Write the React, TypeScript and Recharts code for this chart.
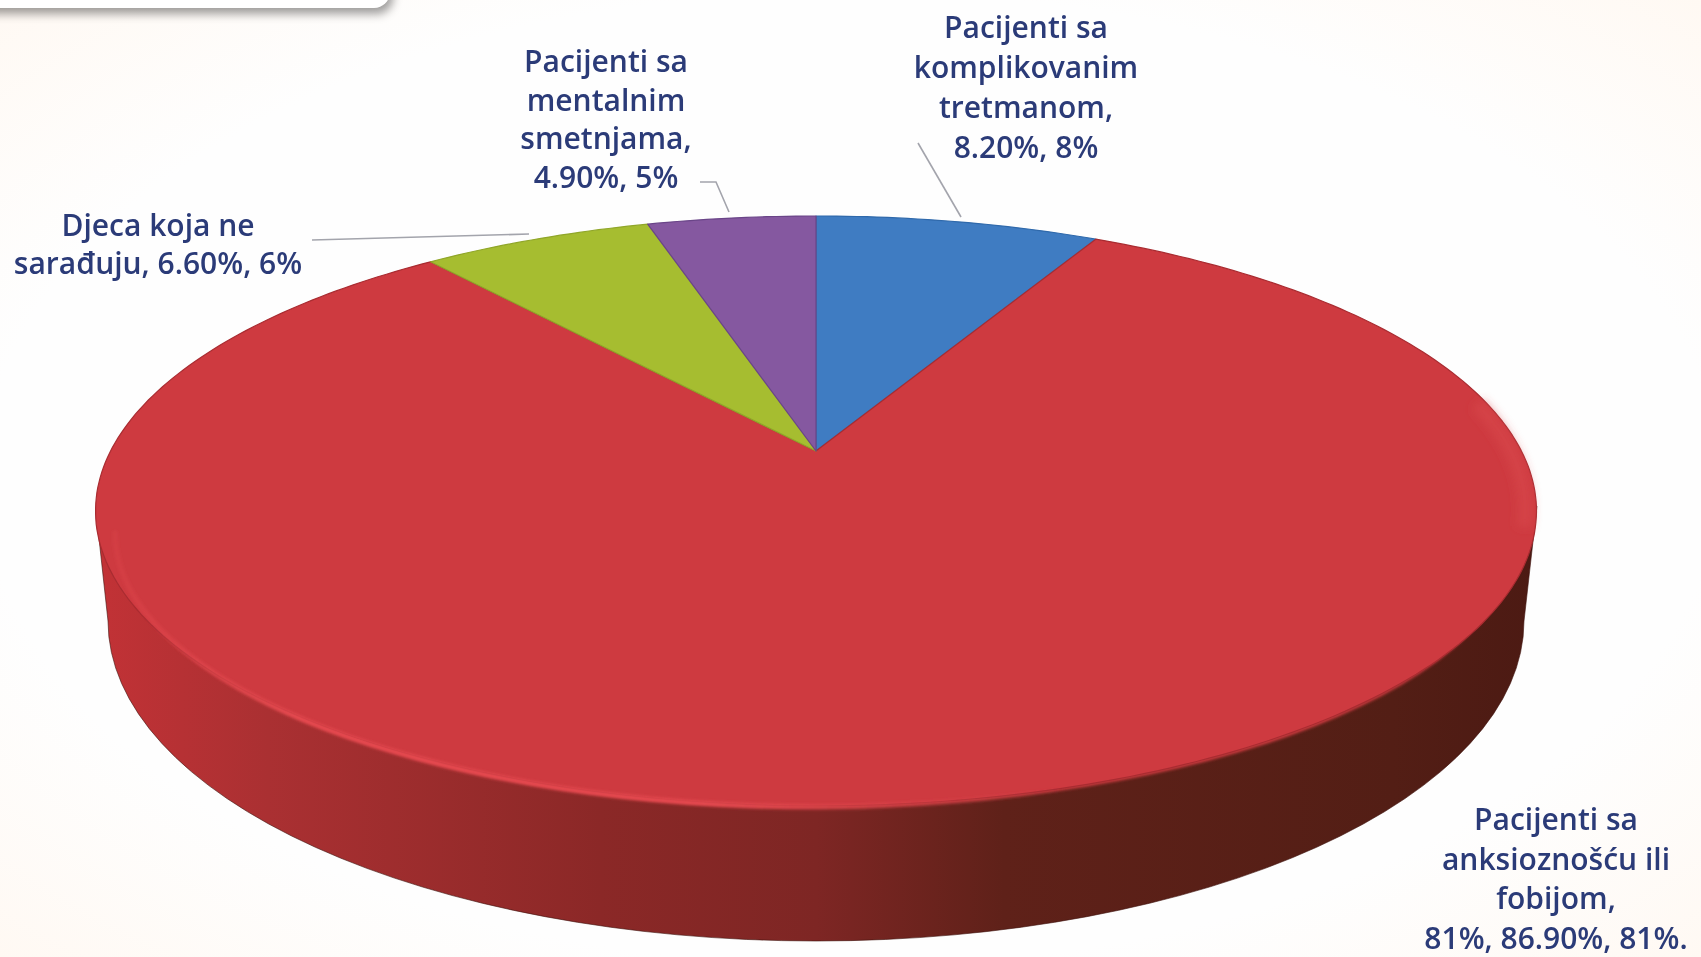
import React from "react";
import { PieChart, Pie } from "recharts";

// slice shares as drawn, clockwise from 12 o'clock
const sliceNames = [
  "Pacijenti sa komplikovanim tretmanom",
  "Pacijenti sa anksioznošću ili fobijom",
  "Djeca koja ne sarađuju",
  "Pacijenti sa mentalnim smetnjama",
];
const sliceValues = [7.75, 81.35, 6.3, 4.6];
const sliceColors = ["#3f7cc2", "#ce3a40", "#a6bd30", "#8558a0"];
const sliceEdges = ["#2f69ab", "#a92c31", "#90a629", "#6a4588"];
const labelLines = [
  ["Pacijenti sa", "komplikovanim", "tretmanom,", "8.20%, 8%"],
  ["Pacijenti sa", "anksioznošću ili", "fobijom,", "81%, 86.90%, 81%."],
  ["Djeca koja ne", "sarađuju, 6.60%, 6%"],
  ["Pacijenti sa", "mentalnim", "smetnjama,", "4.90%, 5%"],
];

const pieData = sliceNames.map((name, i) => ({
  name,
  value: sliceValues[i],
  fill: sliceColors[i],
  edge: sliceEdges[i],
}));
const wholeDisc = [{ name: "disc", value: 100 }];

// layout of the tilted disc
const WIDTH = 1701;
const HEIGHT = 957;
const APEX_X = 816;
const APEX_Y = 451;
const RADIUS = 700;
const SCALE_X = 705.4 / RADIUS;
const SCALE_Y = 282.8 / RADIUS;
const TILT = -0.2034;

const labelSpots = [
  { x: 1026, y: 38, step: 40 },
  { x: 1556, y: 830, step: 39.7 },
  { x: 158, y: 236, step: 38 },
  { x: 606, y: 72, step: 38.5 },
];
const leaderLines = [
  "918,143 961,217",
  "",
  "312,240 529,234",
  "700,182 716,182 729,212",
];

const RAD = Math.PI / 180;

// polar angle on the flat pie -> point on the screen, with perspective
const project = (cx: number, cy: number, r: number, angle: number) => {
  const y = (-r * Math.sin(angle * RAD)) / RADIUS;
  const w = 1 + TILT * y;
  return `${(cx + (SCALE_X * r * Math.cos(angle * RAD)) / w).toFixed(1)},${(
    cy + (SCALE_Y * -r * Math.sin(angle * RAD)) / w
  ).toFixed(1)}`;
};

const arcPoints = (cx: number, cy: number, r: number, from: number, to: number) => {
  const pts: string[] = [];
  const n = Math.max(2, Math.ceil(Math.abs(to - from)));
  for (let i = 0; i <= n; i++) pts.push(project(cx, cy, r, from + ((to - from) * i) / n));
  return pts;
};

const TiltedSlice = (props: any) => {
  const { cx, cy, outerRadius, startAngle, endAngle, fill, payload } = props;
  const pts = arcPoints(cx, cy, outerRadius, startAngle, endAngle);
  return (
    <path
      d={`M${cx},${cy}L${pts.join("L")}Z`}
      fill={fill}
      stroke={payload?.edge ?? fill}
      strokeWidth={1.2}
      strokeLinejoin="round"
    />
  );
};

// side wall: lower half of a slightly smaller ellipse joined to the disc rim,
// with the rounded lip of the top face lying over it
const SideWall = (props: any) => {
  const { cx, cy } = props;
  const midY = cy + 170;
  const wall = `M${cx - 720},${cy + 60}L${cx - 708},${midY}A708,320 0 0 0 ${cx + 708},${midY}L${cx + 721},${cy + 55}Z`;
  const lip = `M${cx - 705},${cy + 79}A705,278 0 0 0 ${cx + 705},${cy + 79}Z`;
  return (
    <g>
      <path d={wall} fill="url(#wallShade)" stroke="#3f120e" strokeWidth={1} strokeOpacity={0.6} />
      <path d={lip} fill="#ce3a40" filter="url(#soft)" />
    </g>
  );
};

const Bevel = (props: any) => {
  const { cx, cy, outerRadius } = props;
  const right = arcPoints(cx, cy, outerRadius * 0.985, 345, 370);
  return (
    <g fill="none">
      <path
        d={`M${cx - 701},${cy + 80}A701,275 0 0 0 ${cx + 250},${cy + 338}`}
        stroke="url(#bevelShade)"
        strokeWidth={5}
        filter="url(#soft)"
      />
      <polyline points={right.join(" ")} stroke="#d9474c" strokeWidth={14} strokeOpacity={0.6} filter="url(#softer)" />
    </g>
  );
};

const SliceLabel = (props: any) => {
  const { index } = props;
  const spot = labelSpots[index];
  return (
    <g>
      {leaderLines[index] && (
        <polyline points={leaderLines[index]} fill="none" stroke="#a3a4ac" strokeWidth={1.6} />
      )}
      <text
        x={spot.x}
        y={spot.y}
        textAnchor="middle"
        fill="#2b3b78"
        fontFamily="'Open Sans', sans-serif"
        fontWeight={600}
        fontSize={30}
      >
        {labelLines[index].map((line, i) => (
          <tspan key={i} x={spot.x} y={spot.y + i * spot.step}>
            {line}
          </tspan>
        ))}
      </text>
    </g>
  );
};

export default function App() {
  return (
    <div
      style={{
        position: "fixed",
        left: 0,
        top: 0,
        width: WIDTH,
        height: HEIGHT,
        overflow: "hidden",
        background: "radial-gradient(ellipse at 50% 50%, #fefefe 72%, #fff9f3 100%)",
      }}
    >
      <div
        style={{
          position: "absolute",
          left: -30,
          top: -50,
          width: 420,
          height: 58,
          borderRadius: 16,
          background: "#ffffff",
          boxShadow: "3px 6px 10px rgba(0,0,0,0.38)",
        }}
      />
      <div style={{ position: "absolute", left: 0, top: 0 }}>
        <PieChart width={WIDTH} height={HEIGHT} margin={{ top: 0, right: 0, bottom: 0, left: 0 }}>
          <defs>
            <linearGradient id="wallShade" gradientUnits="userSpaceOnUse" x1="96" y1="0" x2="1537" y2="0">
              <stop offset="0" stopColor="#c23236" />
              <stop offset="0.12" stopColor="#aa3032" />
              <stop offset="0.35" stopColor="#8b2827" />
              <stop offset="0.5" stopColor="#7e2624" />
              <stop offset="0.63" stopColor="#5f2119" />
              <stop offset="0.9" stopColor="#531e15" />
              <stop offset="1" stopColor="#4c1a13" />
            </linearGradient>
            <linearGradient id="bevelShade" gradientUnits="userSpaceOnUse" x1="110" y1="0" x2="1066" y2="0">
              <stop offset="0" stopColor="#e64a50" stopOpacity={0.2} />
              <stop offset="0.2" stopColor="#e64a50" />
              <stop offset="0.62" stopColor="#e64a50" />
              <stop offset="1" stopColor="#e64a50" stopOpacity={0} />
            </linearGradient>
            <filter id="soft" x="-5%" y="-5%" width="110%" height="110%">
              <feGaussianBlur stdDeviation="1.5" />
            </filter>
            <filter id="softer" x="-50%" y="-20%" width="200%" height="140%">
              <feGaussianBlur stdDeviation="5" />
            </filter>
          </defs>
          <Pie
            data={wholeDisc}
            dataKey="value"
            cx={APEX_X}
            cy={APEX_Y}
            outerRadius={RADIUS}
            startAngle={90}
            endAngle={-270}
            shape={SideWall}
            isAnimationActive={false}
          />
          <Pie
            data={pieData}
            dataKey="value"
            cx={APEX_X}
            cy={APEX_Y}
            outerRadius={RADIUS}
            startAngle={90}
            endAngle={-270}
            shape={TiltedSlice}
            label={SliceLabel}
            labelLine={false}
            isAnimationActive={false}
          />
          <Pie
            data={wholeDisc}
            dataKey="value"
            cx={APEX_X}
            cy={APEX_Y}
            outerRadius={RADIUS}
            startAngle={90}
            endAngle={-270}
            shape={Bevel}
            isAnimationActive={false}
          />
        </PieChart>
      </div>
    </div>
  );
}
